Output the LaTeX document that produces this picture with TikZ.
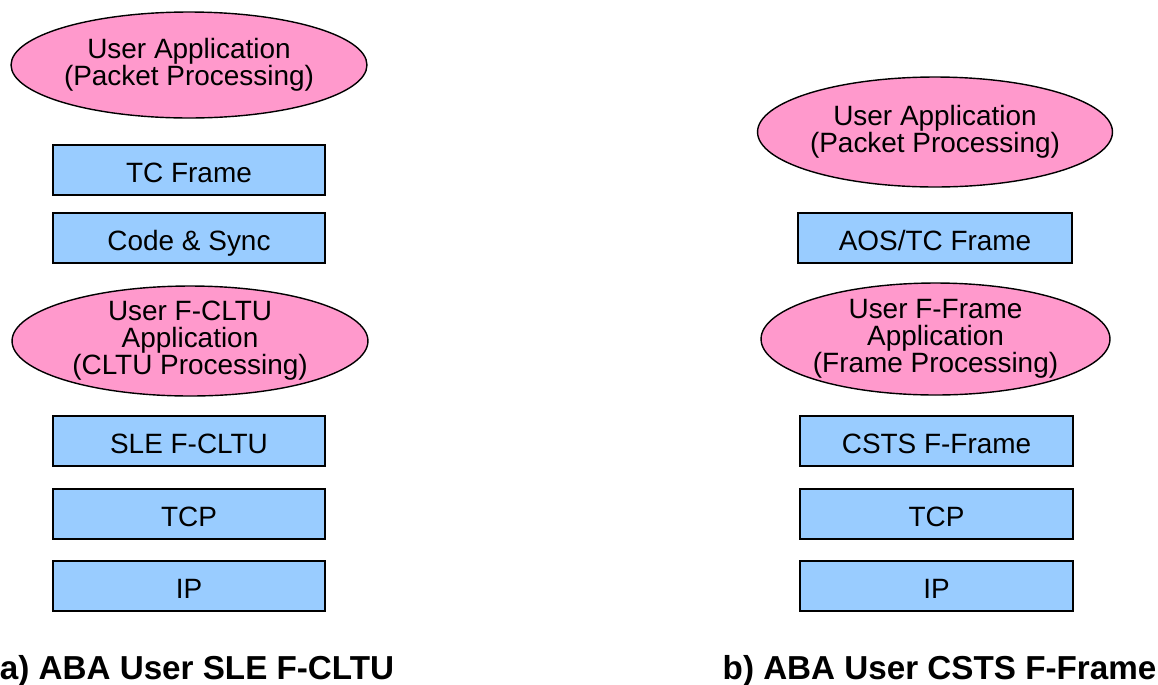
\documentclass[tikz,border=0pt]{standalone}
\usepackage{fontspec}
\setmainfont{Liberation Sans}
\usetikzlibrary{shapes.geometric}

\definecolor{apppink}{RGB}{255,153,204}
\definecolor{layerblue}{RGB}{153,204,255}

\tikzset{
	app/.style={ellipse, draw, line width=0.8pt, fill=apppink, inner sep=-0.5cm, align=center, font=\fontsize{15.9}{15.3}\selectfont},
	layer/.style={rectangle, draw, line width=0.8pt, fill=layerblue, minimum height=1cm, inner sep=0pt, text height=0.58cm, text depth=0.1cm, font=\fontsize{15.9}{15.3}\selectfont},
	caption/.style={anchor=base, font=\bfseries\fontsize{18.9}{20}\selectfont}
}

\begin{document}
\begin{tikzpicture}[x=0.02cm, y=-0.02cm]
	\useasboundingbox (0,0) rectangle (1158,684);
	% a) SLE F-CLTU stack
	\node[app, minimum width=7.12cm, minimum height=2.12cm] (userappa) at (189,65) {User Application\\(Packet Processing)};
	\node[layer, minimum width=5.44cm] (tcframe) at (189,170) {TC Frame};
	\node[layer, minimum width=5.44cm] (codesync) at (189,238) {Code \& Sync};
	\node[app, minimum width=7.12cm, minimum height=2.2cm] (cltuapp) at (190,341) {User F-CLTU\\Application\\(CLTU Processing)};
	\node[layer, minimum width=5.44cm] (slecltu) at (189,441) {SLE F-CLTU};
	\node[layer, minimum width=5.44cm] (tcpa) at (189,514) {TCP};
	\node[layer, minimum width=5.44cm] (ipa) at (189,586) {IP};
	\node[caption] (capa) at (197,679) {a) ABA User SLE F-CLTU};
	% b) CSTS F-Frame stack
	\node[app, minimum width=7.1cm, minimum height=2.2cm] (userappb) at (935,132) {User Application\\(Packet Processing)};
	\node[layer, minimum width=5.48cm] (aostc) at (935,238) {AOS/TC Frame};
	\node[app, minimum width=6.98cm, minimum height=2.24cm] (frameapp) at (935.5,339) {User F-Frame\\Application\\(Frame Processing)};
	\node[layer, minimum width=5.46cm] (cstsframe) at (936.5,441) {CSTS F-Frame};
	\node[layer, minimum width=5.46cm] (tcpb) at (936.5,514) {TCP};
	\node[layer, minimum width=5.46cm] (ipb) at (936.5,586) {IP};
	\node[caption] (capb) at (939.5,679) {b) ABA User CSTS F-Frame};
\end{tikzpicture}
\end{document}
